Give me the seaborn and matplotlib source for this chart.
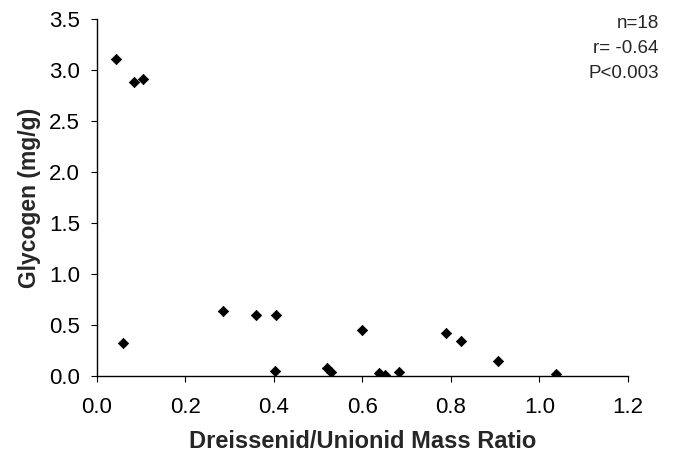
import pandas as pd
import numpy as np
from matplotlib import pyplot as plt
import seaborn as sns

# values
mass_ratio = [0.044, 0.084, 0.105, 0.059, 0.284, 0.359, 0.405, 0.402, 0.519,
              0.530, 0.600, 0.638, 0.651, 0.683, 0.788, 0.823, 0.907, 1.037]
glycogen = [3.11, 2.88, 2.91, 0.32, 0.64, 0.60, 0.60, 0.05, 0.08,
            0.04, 0.45, 0.03, 0.01, 0.04, 0.42, 0.34, 0.15, 0.02]
stats_text = ["n=18", "r= -0.64", "P<0.003"]

data = pd.DataFrame({"ratio": mass_ratio, "glycogen": glycogen})

sns.set_theme(style="ticks")
plt.rcParams['font.family'] = ['Liberation Sans', 'DejaVu Sans']

fig = plt.figure(figsize=(6.73, 4.54), dpi=100)
ax = fig.add_axes([0.144, 0.172, 0.789, 0.786])
sns.scatterplot(x="ratio", y="glycogen", data=data, ax=ax, marker="D",
                color="black", s=28, edgecolor="black", linewidth=0.5)

ax.set_xlim(0, 1.2)
ax.set_ylim(0, 3.5)
ax.set_xticks(np.arange(0, 1.21, 0.2))
ax.set_yticks(np.arange(0, 3.51, 0.5))
ax.xaxis.set_major_formatter(plt.FormatStrFormatter('%.1f'))
ax.yaxis.set_major_formatter(plt.FormatStrFormatter('%.1f'))
ax.tick_params(labelsize=16, length=4, width=0.8, color="black", labelcolor="black")
ax.tick_params(axis="x", pad=11)
ax.tick_params(axis="y", pad=8)
sns.despine(ax=ax)
for side in ["left", "bottom"]:
    ax.spines[side].set_color("black")
    ax.spines[side].set_linewidth(1.0)

ax.set_xlabel("Dreissenid/Unionid Mass Ratio", fontsize=17, fontweight="bold", labelpad=9)
ax.set_ylabel("Glycogen (mg/g)", fontsize=16.5, fontweight="bold", labelpad=6)

fig.text(0.979, 0.967, "\n".join(stats_text), ha="right", va="top",
         fontsize=13.5, linespacing=1.6)

plt.savefig("out.png", dpi=100)
